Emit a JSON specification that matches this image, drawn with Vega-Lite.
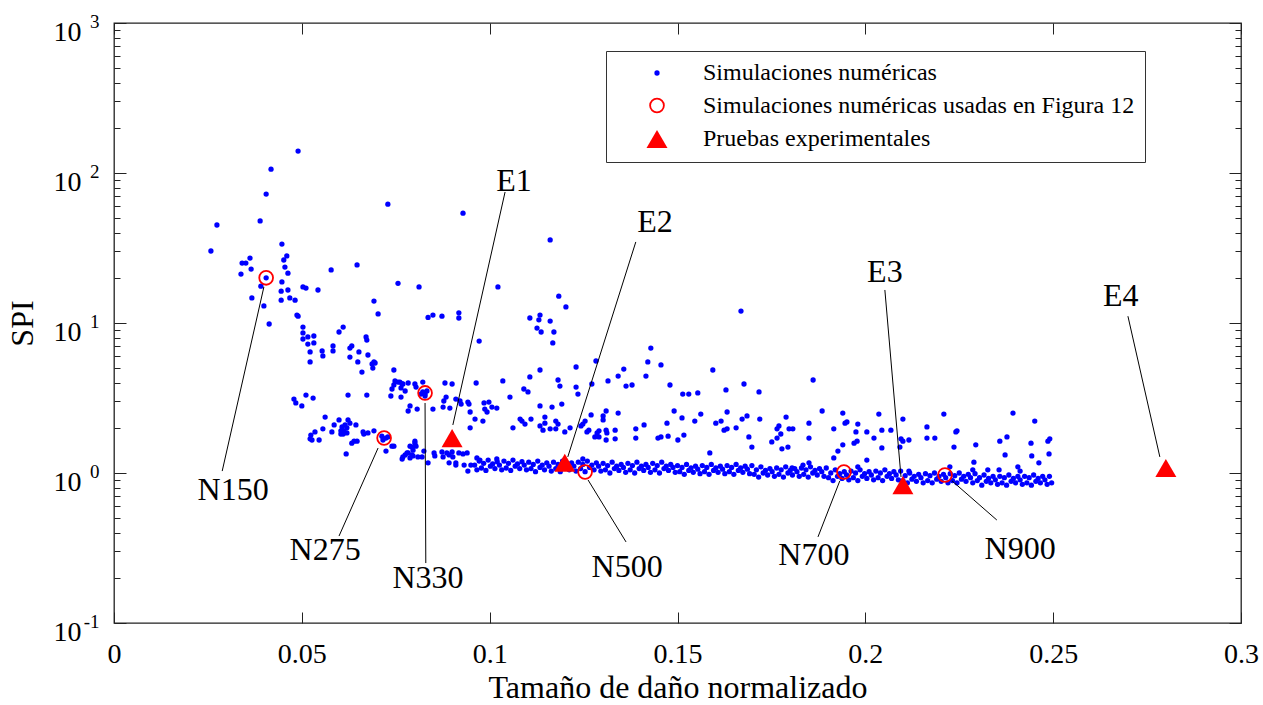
{
"$schema": "https://vega.github.io/schema/vega-lite/v6.json",
"width": 1127, "height": 600,
"autosize": "none",
"padding": {"left": 114, "top": 23, "right": 22, "bottom": 82},
"config": {
  "view": {"stroke": "#222", "strokeWidth": 1.3},
  "font": "Liberation Serif",
  "axis": {"grid": false, "domain": false, "labelFont": "Liberation Serif", "titleFont": "Liberation Serif", "labelColor": "#000", "titleColor": "#000", "tickColor": "#222", "tickWidth": 1, "titleFontWeight": "normal", "labelOverlap": false, "labelFlush": false, "labelBound": false},
  "legend": {"orient": "none", "legendX": 492, "legendY": 28, "strokeColor": "#333", "fillColor": "#ffffff", "padding": 10, "rowPadding": 8.5, "symbolOffset": 29, "labelOffset": 34, "labelFont": "Liberation Serif", "labelFontSize": 24, "labelColor": "#000", "labelLimit": 800, "symbolStrokeWidth": 1.8, "symbolOpacity": 1}
},
"datasets": {
"scatter": [
{"x":0.0490,"y":140},{"x":0.0418,"y":106},{"x":0.0405,"y":72.4},{"x":0.0729,"y":62},{"x":0.0389,"y":47.9},{"x":0.0274,"y":45},{"x":0.0258,"y":30.2},{"x":0.0447,"y":33.6},{"x":0.0460,"y":28},{"x":0.0362,"y":27.1},{"x":0.0341,"y":25.1},{"x":0.0351,"y":25.1},{"x":0.0452,"y":26.3},{"x":0.0455,"y":23.6},{"x":0.0365,"y":22.9},{"x":0.0338,"y":21.2},{"x":0.0463,"y":21.5},{"x":0.0578,"y":22.6},{"x":0.0647,"y":24.4},{"x":0.0405,"y":20},{"x":0.0447,"y":18.8},{"x":0.0391,"y":17.6},{"x":0.0756,"y":18.4},{"x":0.0503,"y":17.4},{"x":0.0511,"y":17.1},{"x":0.0543,"y":16.6},{"x":0.0463,"y":16.6},{"x":0.0445,"y":16.3},{"x":0.0367,"y":14.7},{"x":0.0468,"y":14.7},{"x":0.0482,"y":14.2},{"x":0.0445,"y":14.2},{"x":0.0692,"y":14.0},{"x":0.0812,"y":17.4},{"x":0.1022,"y":17.4},{"x":0.0929,"y":54},{"x":0.1161,"y":35.8},{"x":0.1184,"y":15.1},{"x":0.1203,"y":12.8},{"x":0.1669,"y":12.0},{"x":0.0399,"y":13.0},{"x":0.0703,"y":11.5},{"x":0.0487,"y":11.3},{"x":0.0490,"y":11.1},{"x":0.0413,"y":9.85},{"x":0.0503,"y":9.4},{"x":0.0610,"y":9.4},{"x":0.0599,"y":8.71},{"x":0.0836,"y":10.9},{"x":0.0849,"y":11.3},{"x":0.0873,"y":11.1},{"x":0.0918,"y":11.7},{"x":0.0918,"y":10.8},{"x":0.1107,"y":10.8},{"x":0.1134,"y":11.3},{"x":0.1131,"y":10.5},{"x":0.1161,"y":10.3},{"x":0.1126,"y":9.25},{"x":0.1137,"y":8.71},{"x":0.1171,"y":8.71},{"x":0.0972,"y":7.58},{"x":0.1168,"y":7.36},{"x":0.0503,"y":8.58},{"x":0.0503,"y":7.82},{"x":0.0516,"y":7.24},{"x":0.0532,"y":7.36},{"x":0.0516,"y":8.07},{"x":0.0532,"y":8.19},{"x":0.0671,"y":8.07},{"x":0.0673,"y":7.70},{"x":0.0522,"y":6.41},{"x":0.0522,"y":5.50},{"x":0.0554,"y":6.51},{"x":0.0556,"y":6.03},{"x":0.0583,"y":7.03},{"x":0.0583,"y":6.51},{"x":0.0628,"y":6.81},{"x":0.0633,"y":7.03},{"x":0.0652,"y":6.41},{"x":0.0649,"y":5.50},{"x":0.0628,"y":5.93},{"x":0.0676,"y":6.12},{"x":0.0692,"y":5.50},{"x":0.0687,"y":5.33},{"x":0.0695,"y":5.41},{"x":0.0689,"y":5.01},{"x":0.0660,"y":4.71},{"x":0.0745,"y":4.86},{"x":0.0748,"y":4.11},{"x":0.0756,"y":4.04},{"x":0.0767,"y":3.92},{"x":0.0745,"y":3.86},{"x":0.0740,"y":3.63},{"x":0.0764,"y":3.69},{"x":0.0737,"y":3.26},{"x":0.0764,"y":3.21},{"x":0.0479,"y":3.11},{"x":0.0484,"y":2.93},{"x":0.0500,"y":2.80},{"x":0.0511,"y":3.31},{"x":0.0530,"y":3.16},{"x":0.0623,"y":3.31},{"x":0.0673,"y":3.31},
{"x":0.0562,"y":2.36},{"x":0.0599,"y":2.26},{"x":0.0623,"y":2.26},{"x":0.0628,"y":2.15},{"x":0.0615,"y":2.09},{"x":0.0620,"y":2.00},{"x":0.0612,"y":1.91},{"x":0.0604,"y":1.91},{"x":0.0604,"y":1.82},{"x":0.0610,"y":1.82},{"x":0.0620,"y":1.85},{"x":0.0607,"y":2.03},{"x":0.0644,"y":2.09},{"x":0.0586,"y":2.09},{"x":0.0556,"y":1.97},{"x":0.0580,"y":1.88},{"x":0.0535,"y":1.88},{"x":0.0524,"y":1.79},{"x":0.0522,"y":1.69},{"x":0.0527,"y":1.66},{"x":0.0546,"y":1.66},{"x":0.0639,"y":1.63},{"x":0.0633,"y":1.58},{"x":0.0647,"y":1.63},{"x":0.0663,"y":1.88},{"x":0.0676,"y":1.85},{"x":0.0692,"y":1.91},{"x":0.0665,"y":1.82},{"x":0.0618,"y":1.34},{"x":0.0713,"y":1.76},{"x":0.0724,"y":1.71},{"x":0.0729,"y":1.74},{"x":0.0716,"y":1.66},{"x":0.0724,"y":1.40},{"x":0.0740,"y":1.51},{"x":0.0745,"y":1.51},
{"x":0.0761,"y":4.04},{"x":0.0769,"y":3.92},{"x":0.0783,"y":3.98},{"x":0.0801,"y":3.92},{"x":0.0804,"y":3.74},{"x":0.0822,"y":4.04},{"x":0.0775,"y":3.52},{"x":0.0881,"y":3.98},{"x":0.0900,"y":3.92},{"x":0.0964,"y":3.98},{"x":0.1035,"y":4.11},{"x":0.1107,"y":4.37},{"x":0.1091,"y":3.63},{"x":0.1102,"y":3.47},{"x":0.1182,"y":4.17},{"x":0.1187,"y":3.80},{"x":0.1230,"y":3.74},{"x":0.1235,"y":3.36},{"x":0.1272,"y":3.92},{"x":0.1315,"y":4.11},{"x":0.1342,"y":4.43},{"x":0.1134,"y":4.86},{"x":0.1230,"y":5.09},{"x":0.1283,"y":5.58},{"x":0.0822,"y":3.47},{"x":0.0833,"y":3.52},{"x":0.0817,"y":3.36},{"x":0.0828,"y":3.36},{"x":0.0828,"y":3.26},{"x":0.0884,"y":3.21},{"x":0.0878,"y":3.02},{"x":0.0910,"y":3.11},{"x":0.0921,"y":3.02},{"x":0.0924,"y":2.88},{"x":0.0942,"y":2.97},{"x":0.0945,"y":2.88},{"x":0.1054,"y":3.21},{"x":0.0985,"y":2.93},{"x":0.0998,"y":2.97},{"x":0.0987,"y":2.67},{"x":0.0993,"y":2.55},{"x":0.1006,"y":2.75},{"x":0.1019,"y":2.71},{"x":0.0783,"y":2.59},{"x":0.0788,"y":2.80},{"x":0.0849,"y":2.67},{"x":0.0894,"y":2.71},{"x":0.0876,"y":2.75},{"x":0.0948,"y":2.55},{"x":0.1134,"y":2.80},{"x":0.1166,"y":2.75},{"x":0.1192,"y":2.88},{"x":0.0982,"y":2.22},{"x":0.0961,"y":2.29},{"x":0.0948,"y":2.00},{"x":0.1062,"y":2.00},{"x":0.1081,"y":2.29},{"x":0.1086,"y":2.22},{"x":0.1094,"y":2.12},{"x":0.1110,"y":2.29},{"x":0.1147,"y":2.36},{"x":0.1147,"y":2.15},{"x":0.1134,"y":2.06},{"x":0.1142,"y":1.93},{"x":0.1161,"y":1.97},{"x":0.1176,"y":2.22},{"x":0.1182,"y":2.12},{"x":0.1176,"y":1.97},{"x":0.1200,"y":1.88},{"x":0.1214,"y":2.00},{"x":0.1248,"y":2.12},{"x":0.1254,"y":2.22},{"x":0.1243,"y":2.06},{"x":0.1270,"y":2.44},{"x":0.1302,"y":2.40},{"x":0.1310,"y":2.59},{"x":0.1302,"y":2.26},{"x":0.1259,"y":1.88},{"x":0.1264,"y":1.93},{"x":0.1286,"y":1.85},{"x":0.1291,"y":1.74},{"x":0.1280,"y":1.74},{"x":0.1291,"y":1.91},{"x":0.1310,"y":1.93},{"x":0.1312,"y":1.85},{"x":0.1310,"y":1.66},{"x":0.1334,"y":1.93},{"x":0.1334,"y":1.69},{"x":0.1342,"y":2.51},{"x":0.0807,"y":2.67},
{"x":0.0767,"y":1.24},{"x":0.0775,"y":1.32},{"x":0.0783,"y":1.36},{"x":0.0793,"y":1.32},{"x":0.0788,"y":1.26},{"x":0.0796,"y":1.42},{"x":0.0793,"y":1.49},{"x":0.0801,"y":1.58},{"x":0.0801,"y":1.63},{"x":0.0788,"y":1.51},{"x":0.0804,"y":1.51},{"x":0.0825,"y":1.40},{"x":0.0780,"y":1.36},{"x":0.0769,"y":1.28},{"x":0.0796,"y":1.30},{"x":0.0809,"y":1.28},{"x":0.0820,"y":1.28},{"x":0.0836,"y":1.17},{"x":0.0852,"y":1.36},{"x":0.0854,"y":1.30},{"x":0.0873,"y":1.38},{"x":0.0886,"y":1.36},{"x":0.0892,"y":1.32},{"x":0.0900,"y":1.38},{"x":0.0876,"y":1.28},{"x":0.0902,"y":1.28},{"x":0.0918,"y":1.36},{"x":0.0929,"y":1.34},{"x":0.0940,"y":1.36},{"x":0.0892,"y":1.17},{"x":0.0910,"y":1.17},{"x":0.0910,"y":1.13},{"x":0.0932,"y":1.13},{"x":0.0950,"y":1.13},{"x":0.0942,"y":1.03},{"x":0.0966,"y":1.26},{"x":0.0974,"y":1.22},{"x":0.1019,"y":1.24},{"x":0.1248,"y":1.24},
{"x":0.1429,"y":6.81},{"x":0.1421,"y":5.50},{"x":0.1456,"y":5.25},{"x":0.1357,"y":4.93},{"x":0.1416,"y":4.43},{"x":0.1363,"y":3.80},{"x":0.1379,"y":3.86},{"x":0.1594,"y":4.86},{"x":0.1480,"y":3.86},{"x":0.1514,"y":3.36},{"x":0.1530,"y":3.36},{"x":0.1554,"y":3.42},{"x":0.1629,"y":3.58},{"x":0.1677,"y":3.92},{"x":0.1717,"y":3.47},{"x":0.1861,"y":4.17},{"x":0.1491,"y":2.59},{"x":0.1562,"y":2.47},{"x":0.1512,"y":2.33},{"x":0.1546,"y":2.22},{"x":0.1632,"y":2.55},{"x":0.1616,"y":2.22},{"x":0.1602,"y":2.15},{"x":0.1685,"y":2.40},{"x":0.1672,"y":2.29},{"x":0.1719,"y":2.29},{"x":0.1789,"y":2.36},{"x":0.1885,"y":2.59},{"x":0.1850,"y":2.15},{"x":0.1389,"y":1.97},{"x":0.1389,"y":1.71},{"x":0.1411,"y":2.09},{"x":0.1472,"y":2.15},{"x":0.1448,"y":1.71},{"x":0.1456,"y":1.74},{"x":0.1475,"y":1.76},{"x":0.1501,"y":1.66},{"x":0.1517,"y":1.79},{"x":0.1624,"y":1.93},{"x":0.1632,"y":1.97},{"x":0.1656,"y":2.00},{"x":0.1690,"y":1.74},{"x":0.1698,"y":1.49},{"x":0.1586,"y":1.36},{"x":0.1765,"y":1.97},{"x":0.1770,"y":2.06},{"x":0.1775,"y":1.82},{"x":0.1765,"y":1.71},{"x":0.1751,"y":1.61},{"x":0.1797,"y":1.97},{"x":0.1807,"y":1.97},{"x":0.1794,"y":1.49},{"x":0.1778,"y":1.45},{"x":0.1850,"y":1.71},{"x":0.1916,"y":1.97},{"x":0.1927,"y":1.40},{"x":0.1916,"y":1.26},{"x":0.1834,"y":1.13},{"x":0.1850,"y":1.17},{"x":0.1805,"y":1.08},
{"x":0.1940,"y":2.51},{"x":0.2036,"y":2.47},{"x":0.2209,"y":2.47},{"x":0.2393,"y":2.51},{"x":0.2451,"y":2.22},{"x":0.1946,"y":2.15},{"x":0.1951,"y":2.19},{"x":0.1980,"y":2.12},{"x":0.1975,"y":1.88},{"x":0.2004,"y":1.88},{"x":0.2044,"y":1.93},{"x":0.2068,"y":1.93},{"x":0.2100,"y":2.29},{"x":0.2164,"y":2.03},{"x":0.2241,"y":1.88},{"x":0.2244,"y":1.91},{"x":0.2023,"y":1.71},{"x":0.1970,"y":1.58},{"x":0.1978,"y":1.63},{"x":0.2164,"y":1.71},{"x":0.2185,"y":1.71},{"x":0.2095,"y":1.69},{"x":0.2100,"y":1.63},{"x":0.2116,"y":1.66},{"x":0.2044,"y":1.47},{"x":0.1940,"y":1.54},{"x":0.2092,"y":1.49},{"x":0.2236,"y":1.49},{"x":0.2294,"y":1.54},{"x":0.2358,"y":1.63},{"x":0.2377,"y":1.74},{"x":0.2441,"y":1.58},{"x":0.2486,"y":1.63},{"x":0.2491,"y":1.69},{"x":0.2004,"y":1.22},{"x":0.2372,"y":1.32},{"x":0.2443,"y":1.30},{"x":0.2489,"y":1.34},{"x":0.2462,"y":1.17},{"x":0.2289,"y":1.18},{"x":0.2406,"y":1.10},{"x":0.2412,"y":1.03},{"x":0.2116,"y":1.03},{"x":0.1980,"y":1.10},{"x":0.2326,"y":1.05},{"x":0.2356,"y":1.05},{"x":0.2286,"y":1.05},{"x":0.2225,"y":1.10}
],
"band": [
{"x":0.0960,"y":1.13},{"x":0.0966,"y":1.05},{"x":0.0972,"y":1.20},{"x":0.0978,"y":1.08},{"x":0.0984,"y":1.16},{"x":0.0990,"y":1.04},{"x":0.0996,"y":1.22},{"x":0.1002,"y":1.11},{"x":0.1008,"y":1.15},{"x":0.1014,"y":1.07},{"x":0.1020,"y":1.19},{"x":0.1026,"y":1.13},{"x":0.1032,"y":1.05},{"x":0.1038,"y":1.20},{"x":0.1044,"y":1.08},{"x":0.1050,"y":1.16},{"x":0.1056,"y":1.04},{"x":0.1062,"y":1.22},{"x":0.1068,"y":1.11},{"x":0.1074,"y":1.15},{"x":0.1080,"y":1.07},{"x":0.1086,"y":1.19},{"x":0.1092,"y":1.13},{"x":0.1098,"y":1.05},
{"x":0.1104,"y":1.18},{"x":0.1110,"y":1.07},{"x":0.1116,"y":1.14},{"x":0.1122,"y":1.02},{"x":0.1128,"y":1.20},{"x":0.1134,"y":1.09},{"x":0.1140,"y":1.13},{"x":0.1146,"y":1.05},{"x":0.1152,"y":1.17},{"x":0.1158,"y":1.11},{"x":0.1164,"y":1.03},{"x":0.1170,"y":1.18},{"x":0.1176,"y":1.07},{"x":0.1182,"y":1.14},{"x":0.1188,"y":1.02},{"x":0.1194,"y":1.20},{"x":0.1200,"y":1.09},{"x":0.1206,"y":1.13},{"x":0.1212,"y":1.05},{"x":0.1218,"y":1.17},{"x":0.1224,"y":1.11},{"x":0.1230,"y":1.03},{"x":0.1236,"y":1.18},{"x":0.1242,"y":1.07},{"x":0.1248,"y":1.14},{"x":0.1254,"y":1.02},{"x":0.1260,"y":1.20},{"x":0.1266,"y":1.09},{"x":0.1272,"y":1.13},{"x":0.1278,"y":1.05},{"x":0.1284,"y":1.17},{"x":0.1290,"y":1.11},{"x":0.1296,"y":1.03},
{"x":0.1302,"y":1.16},{"x":0.1308,"y":1.05},{"x":0.1314,"y":1.12},{"x":0.1320,"y":1.00},{"x":0.1326,"y":1.18},{"x":0.1332,"y":1.07},{"x":0.1338,"y":1.11},{"x":0.1344,"y":1.04},{"x":0.1350,"y":1.14},{"x":0.1356,"y":1.09},{"x":0.1362,"y":1.01},{"x":0.1368,"y":1.16},{"x":0.1374,"y":1.05},{"x":0.1380,"y":1.12},{"x":0.1386,"y":1.00},{"x":0.1392,"y":1.18},{"x":0.1398,"y":1.07},{"x":0.1404,"y":1.11},{"x":0.1410,"y":1.04},{"x":0.1416,"y":1.14},{"x":0.1422,"y":1.09},{"x":0.1428,"y":1.01},{"x":0.1434,"y":1.16},{"x":0.1440,"y":1.05},{"x":0.1446,"y":1.12},{"x":0.1452,"y":1.00},{"x":0.1458,"y":1.18},{"x":0.1464,"y":1.07},{"x":0.1470,"y":1.11},{"x":0.1476,"y":1.04},{"x":0.1482,"y":1.14},{"x":0.1488,"y":1.09},{"x":0.1494,"y":1.01},
{"x":0.1500,"y":1.12},{"x":0.1506,"y":1.02},{"x":0.1512,"y":1.09},{"x":0.1518,"y":0.98},{"x":0.1524,"y":1.14},{"x":0.1530,"y":1.04},{"x":0.1536,"y":1.08},{"x":0.1542,"y":1.01},{"x":0.1548,"y":1.11},{"x":0.1554,"y":1.06},{"x":0.1560,"y":0.99},{"x":0.1566,"y":1.12},{"x":0.1572,"y":1.02},{"x":0.1578,"y":1.09},{"x":0.1584,"y":0.98},{"x":0.1590,"y":1.14},{"x":0.1596,"y":1.04},{"x":0.1602,"y":1.08},{"x":0.1608,"y":1.01},{"x":0.1614,"y":1.11},{"x":0.1620,"y":1.06},{"x":0.1626,"y":0.99},{"x":0.1632,"y":1.12},{"x":0.1638,"y":1.02},{"x":0.1644,"y":1.09},{"x":0.1650,"y":0.98},{"x":0.1656,"y":1.14},{"x":0.1662,"y":1.04},{"x":0.1668,"y":1.08},{"x":0.1674,"y":1.01},{"x":0.1680,"y":1.11},{"x":0.1686,"y":1.06},{"x":0.1692,"y":0.99},{"x":0.1698,"y":1.12},
{"x":0.1704,"y":0.98},{"x":0.1710,"y":1.05},{"x":0.1716,"y":0.94},{"x":0.1722,"y":1.10},{"x":0.1728,"y":1.00},{"x":0.1734,"y":1.04},{"x":0.1740,"y":0.97},{"x":0.1746,"y":1.07},{"x":0.1752,"y":1.02},{"x":0.1758,"y":0.95},{"x":0.1764,"y":1.08},{"x":0.1770,"y":0.98},{"x":0.1776,"y":1.05},{"x":0.1782,"y":0.94},{"x":0.1788,"y":1.10},{"x":0.1794,"y":1.00},{"x":0.1800,"y":1.04},{"x":0.1806,"y":0.97},{"x":0.1812,"y":1.07},{"x":0.1818,"y":1.02},{"x":0.1824,"y":0.95},{"x":0.1830,"y":1.08},{"x":0.1836,"y":0.98},{"x":0.1842,"y":1.05},{"x":0.1848,"y":0.94},{"x":0.1854,"y":1.10},{"x":0.1860,"y":1.00},{"x":0.1866,"y":1.04},{"x":0.1872,"y":0.97},{"x":0.1878,"y":1.07},{"x":0.1884,"y":1.02},{"x":0.1890,"y":0.95},{"x":0.1896,"y":1.08},
{"x":0.1902,"y":0.93},{"x":0.1908,"y":1.00},{"x":0.1914,"y":0.89},{"x":0.1920,"y":1.05},{"x":0.1926,"y":0.95},{"x":0.1932,"y":0.99},{"x":0.1938,"y":0.92},{"x":0.1944,"y":1.02},{"x":0.1950,"y":0.97},{"x":0.1956,"y":0.90},{"x":0.1962,"y":1.03},{"x":0.1968,"y":0.93},{"x":0.1974,"y":1.00},{"x":0.1980,"y":0.89},{"x":0.1986,"y":1.05},{"x":0.1992,"y":0.95},{"x":0.1998,"y":0.99},{"x":0.2004,"y":0.92},{"x":0.2010,"y":1.02},{"x":0.2016,"y":0.97},{"x":0.2022,"y":0.90},{"x":0.2028,"y":1.03},{"x":0.2034,"y":0.93},{"x":0.2040,"y":1.00},{"x":0.2046,"y":0.89},{"x":0.2052,"y":1.05},{"x":0.2058,"y":0.95},{"x":0.2064,"y":0.99},{"x":0.2070,"y":0.92},{"x":0.2076,"y":1.02},{"x":0.2082,"y":0.97},{"x":0.2088,"y":0.90},{"x":0.2094,"y":1.03},
{"x":0.2100,"y":0.89},{"x":0.2106,"y":0.96},{"x":0.2112,"y":0.86},{"x":0.2118,"y":1.00},{"x":0.2124,"y":0.91},{"x":0.2130,"y":0.95},{"x":0.2136,"y":0.88},{"x":0.2142,"y":0.98},{"x":0.2148,"y":0.93},{"x":0.2154,"y":0.86},{"x":0.2160,"y":0.99},{"x":0.2166,"y":0.89},{"x":0.2172,"y":0.96},{"x":0.2178,"y":0.86},{"x":0.2184,"y":1.00},{"x":0.2190,"y":0.91},{"x":0.2196,"y":0.95},{"x":0.2202,"y":0.88},{"x":0.2208,"y":0.98},{"x":0.2214,"y":0.93},{"x":0.2220,"y":0.86},{"x":0.2226,"y":0.99},{"x":0.2232,"y":0.89},{"x":0.2238,"y":0.96},{"x":0.2244,"y":0.86},{"x":0.2250,"y":1.00},{"x":0.2256,"y":0.91},{"x":0.2262,"y":0.95},{"x":0.2268,"y":0.88},{"x":0.2274,"y":0.98},{"x":0.2280,"y":0.93},{"x":0.2286,"y":0.86},{"x":0.2292,"y":0.99},{"x":0.2298,"y":0.89},
{"x":0.2304,"y":0.93},{"x":0.2310,"y":0.83},{"x":0.2316,"y":0.97},{"x":0.2322,"y":0.88},{"x":0.2328,"y":0.92},{"x":0.2334,"y":0.86},{"x":0.2340,"y":0.95},{"x":0.2346,"y":0.90},{"x":0.2352,"y":0.84},{"x":0.2358,"y":0.95},{"x":0.2364,"y":0.86},{"x":0.2370,"y":0.93},{"x":0.2376,"y":0.83},{"x":0.2382,"y":0.97},{"x":0.2388,"y":0.88},{"x":0.2394,"y":0.92},{"x":0.2400,"y":0.86},{"x":0.2406,"y":0.95},{"x":0.2412,"y":0.90},{"x":0.2418,"y":0.84},{"x":0.2424,"y":0.95},{"x":0.2430,"y":0.86},{"x":0.2436,"y":0.93},{"x":0.2442,"y":0.83},{"x":0.2448,"y":0.97},{"x":0.2454,"y":0.88},{"x":0.2460,"y":0.92},{"x":0.2466,"y":0.86},{"x":0.2472,"y":0.95},{"x":0.2478,"y":0.90},{"x":0.2484,"y":0.84},{"x":0.2490,"y":0.95},{"x":0.2496,"y":0.86}
],
"circles": [
{"x":0.0405,"y":20},{"x":0.0719,"y":1.71},{"x":0.0828,"y":3.42},{"x":0.1254,"y":1.015},{"x":0.1943,"y":1.015},{"x":0.2212,"y":0.97}
],
"tests": [
{"x":0.09,"y":1.71},{"x":0.12,"y":1.17},{"x":0.21,"y":0.83},{"x":0.28,"y":1.08}
],
"lines": [
{"x1":0.0399,"y1":17.4,"x2":0.0288,"y2":1.03},
{"x1":0.0703,"y1":1.468,"x2":0.0599,"y2":0.380},
{"x1":0.0828,"y1":2.93,"x2":0.0830,"y2":0.251},
{"x1":0.1041,"y1":74.7,"x2":0.0902,"y2":2.09},
{"x1":0.1389,"y1":34.7,"x2":0.1208,"y2":1.28},
{"x1":0.2052,"y1":16.6,"x2":0.2095,"y2":0.94},
{"x1":0.2699,"y1":11.1,"x2":0.2784,"y2":1.28},
{"x1":0.1262,"y1":0.898,"x2":0.1363,"y2":0.347},
{"x1":0.1932,"y1":0.885,"x2":0.1874,"y2":0.375},
{"x1":0.2231,"y1":0.885,"x2":0.2350,"y2":0.486}
],
"labels": [
{"x":0.0317,"y":0.77,"t":"N150"},{"x":0.0562,"y":0.307,"t":"N275"},{"x":0.0836,"y":0.1995,"t":"N330"},{"x":0.1366,"y":0.236,"t":"N500"},{"x":0.1863,"y":0.284,"t":"N700"},{"x":0.2412,"y":0.311,"t":"N900"},{"x":0.1065,"y":88.4,"t":"E1"},{"x":0.1440,"y":47.1,"t":"E2"},{"x":0.2052,"y":21.9,"t":"E3"},{"x":0.2680,"y":15.1,"t":"E4"}
]
},
"layer": [
{
  "mark": {"type": "rule", "strokeDash": [8, 5], "color": "#333", "strokeWidth": 1},
  "encoding": {"y": {"datum": 1, "type": "quantitative", "scale": {"type": "log", "domain": [0.1, 1000], "nice": false}, "axis": null}}
},
{
  "data": {"name": "scatter"},
  "mark": {"type": "point", "opacity": 1, "strokeWidth": 1.8},
  "encoding": {
    "x": {"field": "x", "type": "quantitative", "scale": {"domain": [0, 0.3], "nice": false, "zero": false},
      "axis": {"orient": "bottom", "values": [0, 0.05, 0.1, 0.15, 0.2, 0.25, 0.3], "ticks": false, "labelExpr": "format(datum.value, '~g')", "labelFontSize": 28, "labelPadding": 17, "title": "Tamaño de daño normalizado", "titleFontSize": 32, "titlePadding": 4}},
    "y": {"field": "y", "type": "quantitative", "scale": {"type": "log", "domain": [0.1, 1000], "nice": false},
      "axis": {"orient": "left", "values": [0.1, 1, 10, 100, 1000], "ticks": false, "labelExpr": "'10'", "labelFontSize": 28, "labelPadding": 33, "labelOffset": 9, "title": "SPI", "titleFontSize": 32, "titlePadding": 14}},
    "fill": {"datum": "Simulaciones numéricas", "type": "nominal", "scale": {"domain": ["Simulaciones numéricas", "Simulaciones numéricas usadas en Figura 12", "Pruebas experimentales"], "range": ["#0000ff", "transparent", "#ff0000"]}, "legend": {"title": null}},
    "stroke": {"datum": "Simulaciones numéricas", "type": "nominal", "scale": {"domain": ["Simulaciones numéricas", "Simulaciones numéricas usadas en Figura 12", "Pruebas experimentales"], "range": ["transparent", "#ff0000", "transparent"]}, "legend": {"title": null}},
    "shape": {"datum": "Simulaciones numéricas", "type": "nominal", "scale": {"domain": ["Simulaciones numéricas", "Simulaciones numéricas usadas en Figura 12", "Pruebas experimentales"], "range": ["circle", "circle", "triangle-up"]}, "legend": {"title": null}},
    "size": {"datum": "Simulaciones numéricas", "type": "nominal", "scale": {"type": "ordinal", "domain": ["Simulaciones numéricas", "Simulaciones numéricas usadas en Figura 12", "Pruebas experimentales"], "range": [28, 190, 440]}, "legend": {"title": null}}
  }
},
{
  "data": {"name": "band"},
  "mark": {"type": "point", "opacity": 1, "strokeWidth": 1.8},
  "encoding": {
    "x": {"field": "x", "type": "quantitative", "scale": {"domain": [0, 0.3], "nice": false, "zero": false},
      "axis": {"orient": "top", "values": [0, 0.05, 0.1, 0.15, 0.2, 0.25, 0.3], "labels": false, "tickSize": -11, "title": null}},
    "y": {"field": "y", "type": "quantitative", "scale": {"type": "log", "domain": [0.1, 1000], "nice": false},
      "axis": {"orient": "left", "values": [0.1, 1, 10, 100, 1000], "labels": false, "tickSize": -12, "title": null}},
    "fill": {"datum": "Simulaciones numéricas", "type": "nominal", "scale": {"domain": ["Simulaciones numéricas", "Simulaciones numéricas usadas en Figura 12", "Pruebas experimentales"], "range": ["#0000ff", "transparent", "#ff0000"]}, "legend": {"title": null}},
    "stroke": {"datum": "Simulaciones numéricas", "type": "nominal", "scale": {"domain": ["Simulaciones numéricas", "Simulaciones numéricas usadas en Figura 12", "Pruebas experimentales"], "range": ["transparent", "#ff0000", "transparent"]}, "legend": {"title": null}},
    "shape": {"datum": "Simulaciones numéricas", "type": "nominal", "scale": {"domain": ["Simulaciones numéricas", "Simulaciones numéricas usadas en Figura 12", "Pruebas experimentales"], "range": ["circle", "circle", "triangle-up"]}, "legend": {"title": null}},
    "size": {"datum": "Simulaciones numéricas", "type": "nominal", "scale": {"type": "ordinal", "domain": ["Simulaciones numéricas", "Simulaciones numéricas usadas en Figura 12", "Pruebas experimentales"], "range": [28, 190, 440]}, "legend": {"title": null}}
  }
},
{
  "data": {"name": "circles"},
  "mark": {"type": "point", "opacity": 1, "strokeWidth": 1.8},
  "encoding": {
    "x": {"field": "x", "type": "quantitative", "scale": {"domain": [0, 0.3], "nice": false, "zero": false},
      "axis": {"orient": "bottom", "values": [0, 0.05, 0.1, 0.15, 0.2, 0.25, 0.3], "labels": false, "tickSize": -11, "title": null}},
    "y": {"field": "y", "type": "quantitative", "scale": {"type": "log", "domain": [0.1, 1000], "nice": false},
      "axis": {"orient": "left", "values": [0.2,0.3,0.4,0.5,0.6,0.7,0.8,0.9,2,3,4,5,6,7,8,9,20,30,40,50,60,70,80,90,200,300,400,500,600,700,800,900], "labels": false, "tickSize": -6, "title": null}},
    "fill": {"datum": "Simulaciones numéricas usadas en Figura 12", "type": "nominal", "scale": {"domain": ["Simulaciones numéricas", "Simulaciones numéricas usadas en Figura 12", "Pruebas experimentales"], "range": ["#0000ff", "transparent", "#ff0000"]}, "legend": {"title": null}},
    "stroke": {"datum": "Simulaciones numéricas usadas en Figura 12", "type": "nominal", "scale": {"domain": ["Simulaciones numéricas", "Simulaciones numéricas usadas en Figura 12", "Pruebas experimentales"], "range": ["transparent", "#ff0000", "transparent"]}, "legend": {"title": null}},
    "shape": {"datum": "Simulaciones numéricas usadas en Figura 12", "type": "nominal", "scale": {"domain": ["Simulaciones numéricas", "Simulaciones numéricas usadas en Figura 12", "Pruebas experimentales"], "range": ["circle", "circle", "triangle-up"]}, "legend": {"title": null}},
    "size": {"datum": "Simulaciones numéricas usadas en Figura 12", "type": "nominal", "scale": {"type": "ordinal", "domain": ["Simulaciones numéricas", "Simulaciones numéricas usadas en Figura 12", "Pruebas experimentales"], "range": [28, 190, 440]}, "legend": {"title": null}}
  }
},
{
  "data": {"name": "tests"},
  "mark": {"type": "point", "opacity": 1, "strokeWidth": 1.8},
  "encoding": {
    "x": {"field": "x", "type": "quantitative", "scale": {"domain": [0, 0.3], "nice": false, "zero": false}, "axis": null},
    "y": {"field": "y", "type": "quantitative", "scale": {"type": "log", "domain": [0.1, 1000], "nice": false},
      "axis": {"orient": "left", "values": [0.1, 1, 10, 100, 1000], "ticks": false, "labelExpr": "datum.value < 0.5 ? '-1' : datum.value < 5 ? '0' : datum.value < 50 ? '1' : datum.value < 500 ? '2' : '3'", "labelFontSize": 19, "labelPadding": 15, "labelOffset": -2, "title": null}},
    "fill": {"datum": "Pruebas experimentales", "type": "nominal", "scale": {"domain": ["Simulaciones numéricas", "Simulaciones numéricas usadas en Figura 12", "Pruebas experimentales"], "range": ["#0000ff", "transparent", "#ff0000"]}, "legend": {"title": null}},
    "stroke": {"datum": "Pruebas experimentales", "type": "nominal", "scale": {"domain": ["Simulaciones numéricas", "Simulaciones numéricas usadas en Figura 12", "Pruebas experimentales"], "range": ["transparent", "#ff0000", "transparent"]}, "legend": {"title": null}},
    "shape": {"datum": "Pruebas experimentales", "type": "nominal", "scale": {"domain": ["Simulaciones numéricas", "Simulaciones numéricas usadas en Figura 12", "Pruebas experimentales"], "range": ["circle", "circle", "triangle-up"]}, "legend": {"title": null}},
    "size": {"datum": "Pruebas experimentales", "type": "nominal", "scale": {"type": "ordinal", "domain": ["Simulaciones numéricas", "Simulaciones numéricas usadas en Figura 12", "Pruebas experimentales"], "range": [28, 190, 440]}, "legend": {"title": null}}
  }
},
{
  "data": {"name": "lines"},
  "mark": {"type": "rule", "color": "#000", "strokeWidth": 1},
  "encoding": {
    "x": {"field": "x1", "type": "quantitative", "scale": {"domain": [0, 0.3], "nice": false, "zero": false}, "axis": null},
    "x2": {"field": "x2"},
    "y": {"field": "y1", "type": "quantitative", "scale": {"type": "log", "domain": [0.1, 1000], "nice": false},
      "axis": {"orient": "right", "values": [0.1, 1, 10, 100, 1000], "labels": false, "tickSize": -12, "title": null}},
    "y2": {"field": "y2"}
  }
},
{
  "data": {"name": "labels"},
  "mark": {"type": "text", "font": "Liberation Serif", "fontSize": 32, "align": "center", "baseline": "middle", "color": "#000"},
  "encoding": {
    "x": {"field": "x", "type": "quantitative", "scale": {"domain": [0, 0.3], "nice": false, "zero": false}, "axis": null},
    "y": {"field": "y", "type": "quantitative", "scale": {"type": "log", "domain": [0.1, 1000], "nice": false},
      "axis": {"orient": "right", "values": [0.2,0.3,0.4,0.5,0.6,0.7,0.8,0.9,2,3,4,5,6,7,8,9,20,30,40,50,60,70,80,90,200,300,400,500,600,700,800,900], "labels": false, "tickSize": -6, "title": null}},
    "text": {"field": "t"}
  }
}
],
"resolve": {"axis": {"x": "independent", "y": "independent"}}
}
